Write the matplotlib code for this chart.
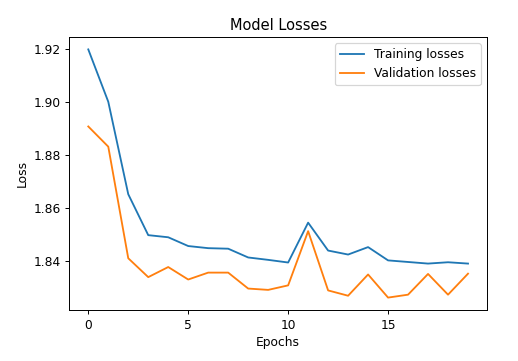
import matplotlib
matplotlib.use("Agg")
import matplotlib.pyplot as plt

# 每个epoch的损失值
epochs = list(range(20))
train_losses = [1.9197, 1.9000, 1.8652, 1.8498, 1.8490, 1.8457, 1.8449, 1.8447, 1.8414, 1.8405,
                1.8395, 1.8545, 1.8440, 1.8425, 1.8453, 1.8403, 1.8397, 1.8391, 1.8396, 1.8391]
val_losses = [1.8907, 1.8831, 1.8411, 1.8340, 1.8378, 1.8331, 1.8357, 1.8357, 1.8297, 1.8292,
              1.8309, 1.8513, 1.8290, 1.8270, 1.8350, 1.8263, 1.8274, 1.8352, 1.8274, 1.8353]

DPI = 88
fig = plt.figure(figsize=(518 / DPI, 361 / DPI), dpi=DPI)
ax = fig.add_axes([69.3 / 518, 51 / 361, (487 - 69.3) / 518, (310 - 37) / 361])

ax.plot(epochs, train_losses, label='Training losses')
ax.plot(epochs, val_losses, label='Validation losses')
ax.set_title('Model Losses')
ax.set_xlabel('Epochs')
ax.set_ylabel('Loss')
ax.set_xticks([0, 5, 10, 15])
ax.legend(loc='upper right')

fig.savefig('out.png', dpi=DPI)
